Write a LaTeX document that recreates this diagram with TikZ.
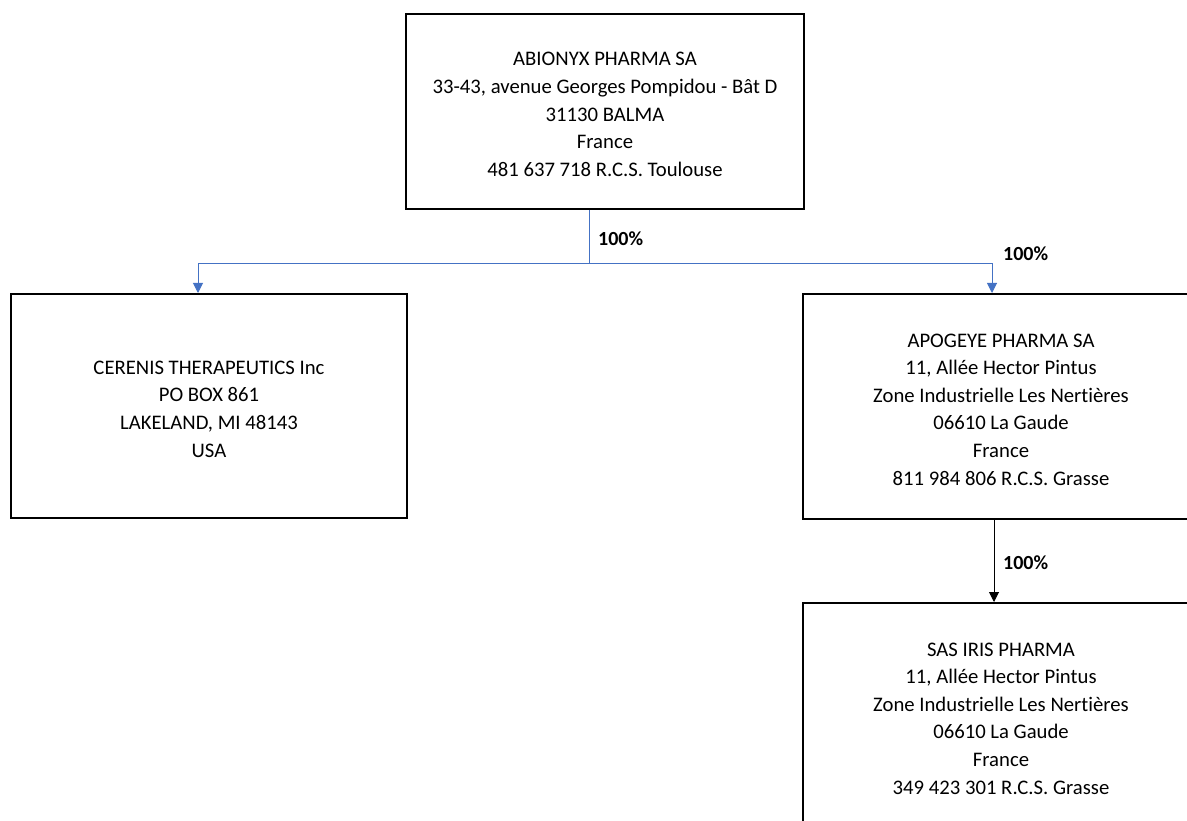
\documentclass[tikz,border=0pt]{standalone}
\usepackage{fontspec}
\setmainfont[Ligatures=NoCommon]{Carlito}
\usetikzlibrary{arrows.meta}
\definecolor{offblue}{RGB}{68,114,196}
\tikzset{
  orgbox/.style={draw=black, line width=2pt, minimum width=396pt, inner sep=0pt},
  orgtext/.style={align=center, font=\fontsize{20.7}{27.6}\selectfont, inner sep=0pt, yshift=-3pt},
  bluearr/.style={draw=offblue, line width=1pt, -{Triangle[width=10pt,length=10pt]}},
  blackarr/.style={draw=black, line width=1pt, -{Triangle[width=10pt,length=10pt]}},
  pct/.style={font=\fontsize{20}{22}\selectfont\bfseries, anchor=west, inner sep=0pt}
}
\begin{document}
\begin{tikzpicture}[x=1pt,y=-1pt]
\useasboundingbox (0,0) rectangle (1187,821);
\clip (0,0) rectangle (1187,821);
\node[orgbox, minimum width=398pt, minimum height=195pt] (abionyx) at (605,111.5) {};
\node[orgtext] (abionyxtext) at (abionyx.center)
  {ABIONYX PHARMA SA\\33-43, avenue Georges Pompidou - Bât D\\31130 BALMA\\France\\481 637 718 R.C.S. Toulouse};
\node[orgbox, minimum height=224pt] (cerenis) at (209,406) {};
\node[orgtext] (cerenistext) at (cerenis.center)
  {CERENIS THERAPEUTICS Inc\\PO BOX 861\\LAKELAND, MI 48143\\USA};
\node[orgbox, minimum height=225pt] (apogeye) at (1001,406.5) {};
\node[orgtext] (apogeyetext) at (apogeye.center)
  {APOGEYE PHARMA SA\\11, Allée Hector Pintus\\Zone Industrielle Les Nertières\\06610 La Gaude\\France\\811 984 806 R.C.S. Grasse};
\node[orgbox, minimum height=225pt] (iris) at (1001,715.5) {};
\node[orgtext] (iristext) at (iris.center)
  {SAS IRIS PHARMA\\11, Allée Hector Pintus\\Zone Industrielle Les Nertières\\06610 La Gaude\\France\\349 423 301 R.C.S. Grasse};
\coordinate (j) at (589,264);
\draw[draw=offblue, line width=1pt] (abionyx.south -| j) -- (j);
\draw[bluearr] (j) -| ([xshift=-11pt]cerenis.north);
\draw[bluearr] (j) -| ([xshift=-9pt]apogeye.north);
\draw[blackarr] ([xshift=-7pt]apogeye.south) -- ([xshift=-7pt]iris.north);
\node[pct] (p1) at (598,239) {100\%};
\node[pct] (p2) at (1003,254) {100\%};
\node[pct] (p3) at (1003,563) {100\%};
\end{tikzpicture}
\end{document}
